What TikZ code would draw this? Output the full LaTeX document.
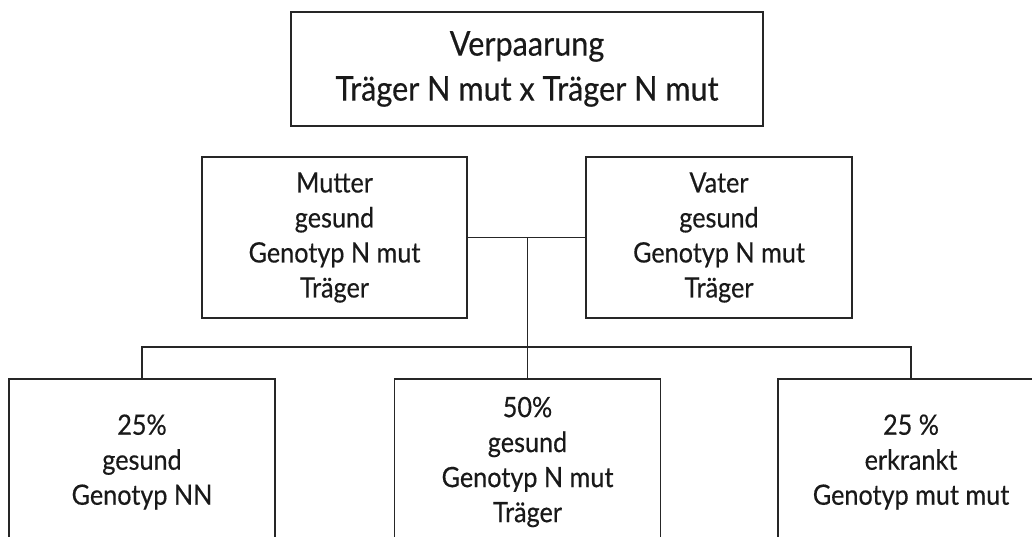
\documentclass[tikz,border=0pt]{standalone}
\usepackage{fontspec}
\setmainfont{Lato}[FakeStretch=0.9, FakeBold=0.4]
\begin{document}
\begin{tikzpicture}[x=1pt,y=-1pt]
\tikzset{
  box/.style={draw=black!85, line width=1.5pt, inner sep=0pt, align=center, font=\fontsize{28}{35}\selectfont, text=black!90},
  link/.style={draw=black!85, line width=1.5pt},
}
\clip (0,0) rectangle (1032,537);
\useasboundingbox (0,0) rectangle (1032,537);
\fill[white] (0,0) rectangle (1032,537);
\node[box, minimum width=472pt, minimum height=114pt, font=\fontsize{34}{45}\selectfont] (top) at (527,69) {Verpaarung\\Träger N mut x Träger N mut};
\node[box, minimum width=265pt, minimum height=161pt] (m) at (334.5,237.5) {Mutter\\gesund\\Genotyp N mut\\Träger};
\node[box, minimum width=266pt, minimum height=161pt] (v) at (719,237.5) {Vater\\gesund\\Genotyp N mut\\Träger};
\node[box, minimum width=266pt, minimum height=166pt] (c1) at (142,462) {25\%\\gesund\\Genotyp NN};
\node[box, minimum width=266pt, minimum height=166pt] (c2) at (527.5,462) {50\%\\gesund\\Genotyp N mut\\Träger};
\node[box, minimum width=266pt, minimum height=166pt] (c3) at (911,462) {25 \%\\erkrankt\\Genotyp mut mut};
\coordinate (j) at (527.5,238);
\coordinate (s) at (527.5,347);
\draw[link] (m.east) -- (v.west);
\draw[link] (j) -- (s);
\draw[link] (c1.north) |- (s);
\draw[link] (c3.north) |- (s);
\draw[link] (s) -- (c2.north);
\end{tikzpicture}
\end{document}
